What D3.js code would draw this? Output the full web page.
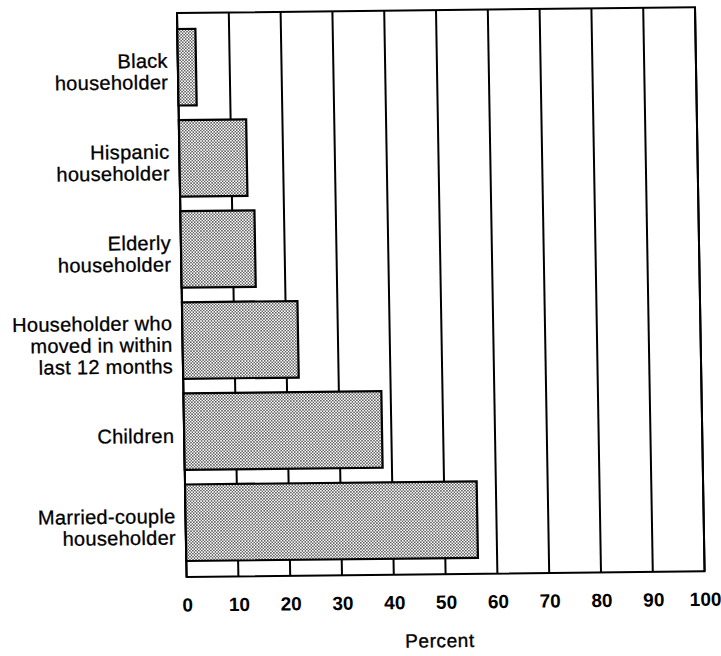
<!DOCTYPE html>
<html>
<head>
<meta charset="utf-8">
<script src="https://cdn.jsdelivr.net/npm/d3@7"></script>
<style>
  html, body { margin: 0; padding: 0; background: #fff; }
  svg { display: block; }
  text { font-family: "Liberation Sans", Arial, Helvetica, sans-serif; fill: #000; }
</style>
</head>
<body>
<svg id="chart" width="721" height="656"></svg>
<script>
// ---- data ----
const categories = [
  "Black householder",
  "Hispanic householder",
  "Elderly householder",
  "Householder who moved in within last 12 months",
  "Children",
  "Married-couple householder"
];
const categoryLines = [
  ["Black", "householder"],
  ["Hispanic", "householder"],
  ["Elderly", "householder"],
  ["Householder who", "moved in within", "last 12 months"],
  ["Children"],
  ["Married-couple", "householder"]
];
const values = [3.5, 13, 14.3, 22.3, 38.2, 56.3];
const tickValues = [0, 10, 20, 30, 40, 50, 60, 70, 80, 90, 100];
const tickLabels = ["0", "10", "20", "30", "40", "50", "60", "70", "80", "90", "100"];
const axisTitle = "Percent";

// ---- layout ----
const W = 518, H = 564;
const svg = d3.select("#chart");

const defs = svg.append("defs");
const pat = defs.append("pattern")
  .attr("id", "dots")
  .attr("patternUnits", "userSpaceOnUse")
  .attr("width", 3).attr("height", 3);
pat.append("rect").attr("width", 3).attr("height", 3).attr("fill", "#fff");
pat.append("circle").attr("cx", 0.75).attr("cy", 0.75).attr("r", 0.72).attr("fill", "#222");
pat.append("circle").attr("cx", 2.25).attr("cy", 2.25).attr("r", 0.72).attr("fill", "#222");

// slight tilt mimicking the scanned original
const g = svg.append("g").attr("transform", "matrix(1,-0.011,0.017,1,177,13)");

const x = d3.scaleLinear().domain([0, 100]).range([0, W]);
const y = d3.scaleBand().domain(categories).range([0, H])
  .paddingInner(0.16).paddingOuter(0.1755);

// grid lines
g.selectAll("line.grid").data(tickValues).join("line")
  .attr("class", "grid")
  .attr("x1", d => x(d)).attr("x2", d => x(d))
  .attr("y1", 0).attr("y2", H)
  .attr("stroke", "#000").attr("stroke-width", 2);

// frame
g.append("rect")
  .attr("x", x(0)).attr("y", 0)
  .attr("width", x(100) - x(0)).attr("height", H)
  .attr("fill", "none").attr("stroke", "#000").attr("stroke-width", 2);

// bars
g.selectAll("rect.bar").data(categories).join("rect")
  .attr("class", "bar")
  .attr("x", x(0))
  .attr("y", d => y(d))
  .attr("width", (d, i) => x(values[i]) - x(0))
  .attr("height", y.bandwidth())
  .attr("fill", "url(#dots)")
  .attr("stroke", "#000").attr("stroke-width", 2.2);

// x axis labels
const ax = g.append("g").attr("transform", `translate(0,${H})`)
  .call(d3.axisBottom(x).tickValues(tickValues)
    .tickFormat((d, i) => tickLabels[i]).tickSize(0).tickPadding(21));
ax.select(".domain").remove();
ax.selectAll("text")
  .style("font-family", '"Liberation Sans", Arial, Helvetica, sans-serif')
  .style("font-size", "19px").style("font-weight", "bold").attr("fill", "#000");

// axis title
g.append("text")
  .attr("x", x(48.7)).attr("y", H + 73)
  .attr("text-anchor", "middle")
  .style("font-size", "19px").style("letter-spacing", "0.6px")
  .attr("stroke", "#000").attr("stroke-width", 0.35)
  .text(axisTitle);

// category labels
const L = 21.5, C = 14;
const lab = g.selectAll("text.cat").data(categories).join("text")
  .attr("class", "cat")
  .attr("text-anchor", "end")
  .attr("stroke", "#000").attr("stroke-width", 0.3)
  .style("font-size", "20px").style("letter-spacing", "0.3px");
lab.each(function(d, i) {
  const lines = categoryLines[i];
  const cy = y(d) + y.bandwidth() / 2 + 4;
  const b1 = cy - ((lines.length - 1) * L) / 2 + C / 2;
  d3.select(this).selectAll("tspan").data(lines).join("tspan")
    .attr("x", -10)
    .attr("y", (t, j) => b1 + j * L)
    .text(t => t);
});
</script>
</body>
</html>
